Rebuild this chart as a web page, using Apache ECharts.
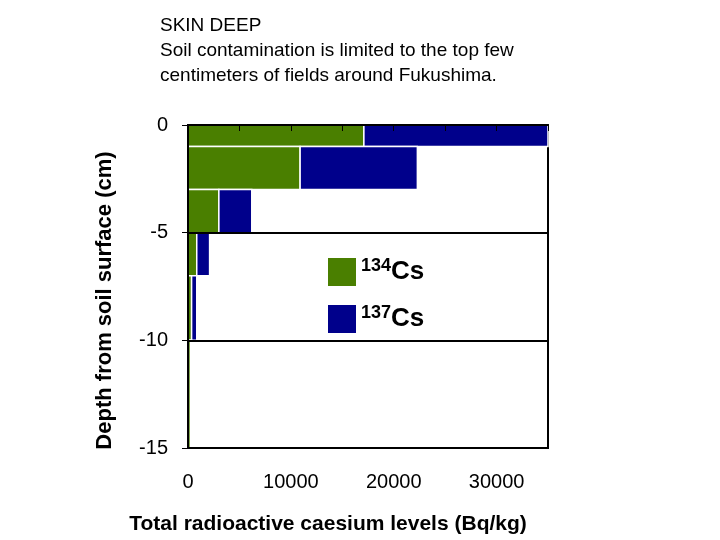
<!DOCTYPE html>
<html>
<head>
<meta charset="utf-8">
<script src="https://cdn.jsdelivr.net/npm/echarts@6/dist/echarts.min.js"></script>
<style>html,body{margin:0;padding:0;background:#fff;}#main{width:720px;height:540px;}</style>
</head>
<body>
<div id="main"></div>
<script>
// 各层深度 (cm) 与铯含量 (Bq/kg)
var depthTop=[0,-1,-3,-5,-7,-10];
var depthBottom=[-1,-3,-5,-7,-10,-15];
var cs134=[17100,10900,3000,850,350,250];
var cs137=[17900,11400,3200,1250,500,100];
var xTicks=[0,10000,20000,30000];
var yTicks=[0,-5,-10,-15];

var myChart=echarts.init(document.getElementById('main'));

function layerData(){
    var arr=[];
    for(var i=0;i<depthTop.length;i++){
        arr.push([depthTop[i],depthBottom[i],cs134[i],cs137[i]]);
    }
    return arr;
}

function makeRender(which){
    return function(params,api){
        var top=api.value(0),bot=api.value(1),a=api.value(2),b=api.value(3);
        var x0=which==0?0:a;
        var x1=which==0?a:a+b;
        var p0=api.coord([x0,top]);
        var p1=api.coord([x1,bot]);
        var rect=echarts.graphic.clipRectByRect({
            x:p0[0],y:p0[1],width:p1[0]-p0[0],height:p1[1]-p0[1]
        },params.coordSys);
        return rect&&{
            type:'rect',
            shape:rect,
            style:{fill:api.visual('color'),stroke:'#fff',lineWidth:1.5}
        };
    };
}

var labelFont={fontFamily:'Liberation Sans',fontSize:20,color:'#000'};

var option={
    backgroundColor:'#fff',
    animation:false,
    title:{
        text:'SKIN DEEP\nSoil contamination is limited to the top few\ncentimeters of fields around Fukushima.',
        left:155,top:8,
        textStyle:{fontFamily:'Liberation Sans',fontSize:19,fontWeight:'normal',color:'#000',lineHeight:25}
    },
    legend:{
        orient:'vertical',
        left:323,top:252,
        itemWidth:28,itemHeight:28,itemGap:18,
        data:[
            {name:'134Cs',icon:'rect',itemStyle:{color:'#4a7f00'}},
            {name:'137Cs',icon:'rect',itemStyle:{color:'#00008b'}}
        ],
        formatter:function(n){return '{s|'+n.slice(0,3)+'}{c|'+n.slice(3)+'}';},
        textStyle:{
            rich:{
                s:{fontFamily:'Liberation Sans',fontSize:18,fontWeight:'bold',color:'#000',verticalAlign:'top',padding:[0,0,12,0]},
                c:{fontFamily:'Liberation Sans',fontSize:26,fontWeight:'bold',color:'#000'}
            }
        }
    },
    grid:{left:188,right:172,top:125,bottom:88,show:true,borderColor:'#000',borderWidth:2},
    xAxis:[{
        type:'value',min:0,max:35000,interval:5000,position:'bottom',z:10,
        name:'Total radioactive caesium levels (Bq/kg)',nameLocation:'middle',nameGap:66,
        nameTextStyle:{fontFamily:'Liberation Sans',fontSize:21,fontWeight:'bold',color:'#000',padding:[0,0,0,-80]},
        axisLine:{lineStyle:{color:'#000',width:2}},
        axisTick:{length:6,lineStyle:{color:'#000'}},
        splitLine:{show:false},
        axisLabel:Object.assign({margin:24,formatter:function(v){return xTicks.indexOf(v)>=0?String(v):'';}},labelFont)
    },{
        type:'value',min:0,max:35000,interval:10000,position:'top',z:10,
        axisLine:{lineStyle:{color:'#000',width:2}},
        axisTick:{inside:true,length:6,lineStyle:{color:'#000'}},
        axisLabel:{show:false},splitLine:{show:false}
    }],
    yAxis:{
        type:'value',min:-15,max:0,interval:5,z:10,
        name:'Depth from soil surface (cm)',nameLocation:'middle',nameGap:72,nameRotate:90,
        nameTextStyle:{fontFamily:'Liberation Sans',fontSize:22,fontWeight:'bold',color:'#000',padding:[0,0,0,-28]},
        axisLine:{lineStyle:{color:'#000',width:2}},
        axisTick:{length:6,lineStyle:{color:'#000'}},
        splitLine:{lineStyle:{color:'#000',width:2}},
        axisLabel:Object.assign({margin:20,formatter:function(v){return yTicks.indexOf(v)>=0?String(v):'';}},labelFont)
    },
    series:[{
        name:'134Cs',type:'custom',renderItem:makeRender(0),z:1,
        itemStyle:{color:'#4a7f00'},data:layerData(),encode:{x:[2],y:[0,1]}
    },{
        name:'137Cs',type:'custom',renderItem:makeRender(1),z:1,
        itemStyle:{color:'#00008b'},data:layerData(),encode:{x:[2,3],y:[0,1]}
    }]
};
myChart.setOption(option);
</script>
</body>
</html>
